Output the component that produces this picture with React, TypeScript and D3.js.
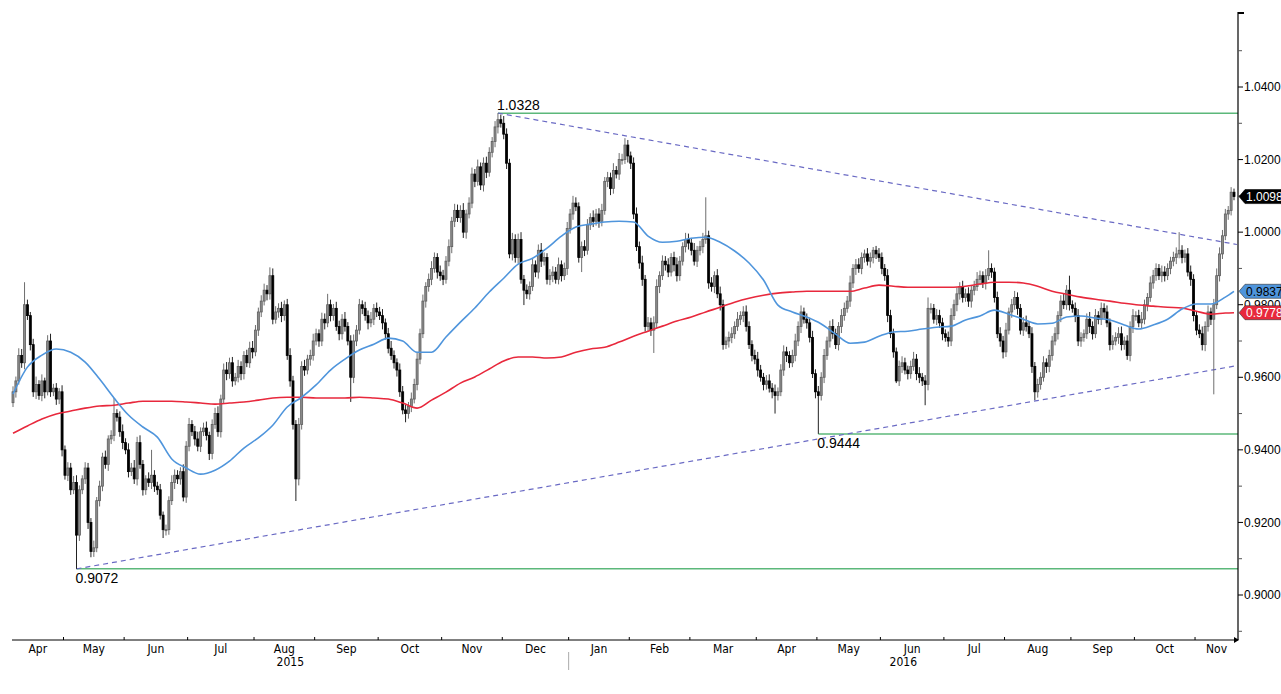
import React from "react";
import * as d3 from "d3";

// ---------------- data ----------------
const START_DATE = [2015, 3, 7]; // 7 Apr 2015, first trading day shown
const firstOpen = 0.953;

const closes = [
  0.9560,0.9590,0.9660,0.9640,0.9800,0.9770,0.9690,0.9560,0.9580,0.9550,0.9590,0.9560,0.9700,0.9560,0.9570,0.9540,0.9560,0.9400,0.9330,0.9350,
  0.9290,0.9310,0.9165,0.9290,0.9320,0.9350,0.9200,0.9120,0.9130,0.9260,0.9300,0.9380,0.9360,0.9430,0.9440,0.9500,0.9490,0.9450,0.9420,0.9400,
  0.9340,0.9350,0.9320,0.9420,0.9360,0.9290,0.9320,0.9310,0.9330,0.9300,0.9290,0.9220,0.9180,0.9180,0.9260,0.9310,0.9330,0.9320,0.9340,0.9270,
  0.9410,0.9470,0.9450,0.9430,0.9410,0.9450,0.9460,0.9440,0.9390,0.9470,0.9500,0.9450,0.9540,0.9620,0.9610,0.9640,0.9590,0.9600,0.9630,0.9610,
  0.9660,0.9640,0.9680,0.9670,0.9730,0.9780,0.9810,0.9840,0.9830,0.9880,0.9760,0.9780,0.9790,0.9770,0.9800,0.9660,0.9590,0.9470,0.9320,0.9470,
  0.9630,0.9620,0.9650,0.9660,0.9700,0.9720,0.9700,0.9760,0.9750,0.9800,0.9770,0.9790,0.9740,0.9720,0.9760,0.9740,0.9700,0.9600,0.9700,0.9730,
  0.9800,0.9790,0.9770,0.9750,0.9760,0.9790,0.9780,0.9770,0.9750,0.9720,0.9680,0.9660,0.9640,0.9620,0.9560,0.9510,0.9500,0.9520,0.9540,0.9580,
  0.9650,0.9720,0.9810,0.9850,0.9870,0.9900,0.9930,0.9890,0.9880,0.9870,0.9920,0.9960,1.0030,1.0060,1.0040,1.0060,1.0000,1.0050,1.0080,1.0160,
  1.0140,1.0180,1.0130,1.0190,1.0165,1.0220,1.0250,1.0290,1.0310,1.0300,1.0270,1.0190,0.9940,0.9980,0.9930,0.9980,0.9870,0.9840,0.9830,0.9850,
  0.9910,0.9890,0.9950,0.9920,0.9930,0.9870,0.9880,0.9890,0.9870,0.9910,0.9880,0.9900,1.0010,1.0050,1.0080,1.0070,0.9930,0.9960,0.9950,1.0020,
  1.0040,1.0030,1.0050,1.0030,1.0060,1.0140,1.0150,1.0120,1.0170,1.0160,1.0200,1.0200,1.0240,1.0210,1.0190,1.0050,0.9960,0.9915,0.9870,0.9740,
  0.9750,0.9730,0.9750,0.9850,0.9880,0.9920,0.9910,0.9890,0.9930,0.9910,0.9880,0.9920,0.9960,0.9980,0.9970,0.9950,0.9920,0.9950,0.9960,0.9980,
  0.9990,0.9860,0.9850,0.9880,0.9830,0.9800,0.9690,0.9700,0.9710,0.9720,0.9740,0.9760,0.9770,0.9780,0.9740,0.9690,0.9660,0.9650,0.9620,0.9600,
  0.9580,0.9590,0.9570,0.9560,0.9550,0.9560,0.9620,0.9670,0.9660,0.9640,0.9660,0.9700,0.9740,0.9780,0.9760,0.9750,0.9710,0.9610,0.9560,0.9550,
  0.9600,0.9660,0.9700,0.9740,0.9720,0.9690,0.9740,0.9770,0.9790,0.9810,0.9860,0.9900,0.9910,0.9900,0.9930,0.9940,0.9920,0.9930,0.9950,0.9940,
  0.9930,0.9900,0.9880,0.9770,0.9720,0.9670,0.9590,0.9630,0.9640,0.9620,0.9610,0.9630,0.9650,0.9610,0.9600,0.9590,0.9580,0.9790,0.9790,0.9760,
  0.9770,0.9750,0.9720,0.9710,0.9700,0.9770,0.9800,0.9830,0.9850,0.9820,0.9830,0.9810,0.9840,0.9850,0.9870,0.9880,0.9860,0.9880,0.9900,0.9890,
  0.9820,0.9720,0.9700,0.9670,0.9730,0.9780,0.9800,0.9820,0.9790,0.9730,0.9750,0.9740,0.9720,0.9630,0.9560,0.9580,0.9600,0.9640,0.9630,0.9660,
  0.9700,0.9720,0.9770,0.9810,0.9800,0.9840,0.9800,0.9790,0.9770,0.9700,0.9710,0.9720,0.9760,0.9740,0.9720,0.9770,0.9760,0.9790,0.9780,0.9750,
  0.9690,0.9700,0.9710,0.9720,0.9690,0.9700,0.9660,0.9740,0.9770,0.9770,0.9750,0.9760,0.9800,0.9820,0.9860,0.9880,0.9900,0.9880,0.9890,0.9880,
  0.9900,0.9920,0.9930,0.9940,0.9950,0.9930,0.9940,0.9890,0.9870,0.9770,0.9730,0.9720,0.9690,0.9740,0.9780,0.9760,0.9800,0.9880,0.9940,0.9990,
  1.0050,1.0060,1.0110,1.0098,
];

// wick lengths beyond the body, in pips
const wickUp = [
  15,12,20,18,62,14,10,16,22,12,18,9,16,20,12,14,10,18,12,16,
  14,18,20,12,10,16,14,12,20,10,15,12,18,10,14,43,12,16,20,12,
  18,14,22,16,20,12,10,18,70,14,12,16,10,14,12,20,16,14,12,20,
  14,18,12,16,20,12,15,18,10,14,16,20,12,18,22,14,16,12,18,14,
  12,16,18,20,14,12,16,18,14,23,20,16,14,18,12,16,20,14,12,18,
  14,18,12,16,20,14,12,18,16,30,14,12,18,16,14,20,12,16,18,14,
  16,12,18,14,20,12,16,14,18,12,16,20,14,12,18,16,14,12,18,16,
  20,14,18,12,16,20,14,12,18,16,14,20,12,18,16,14,20,12,16,18,
  14,20,12,16,18,14,12,16,18,14,20,16,12,18,14,16,20,12,16,14,
  18,12,16,20,14,12,18,16,14,20,12,16,18,14,20,16,12,14,18,16,
  12,20,14,16,18,12,16,14,20,12,18,16,19,14,12,16,18,14,20,12,
  16,14,18,20,12,16,14,18,12,16,20,14,12,18,16,14,20,12,16,18,
  106,14,16,12,18,20,14,12,16,18,14,20,12,16,18,14,12,16,20,14,
  12,16,18,14,20,12,16,18,14,12,16,20,14,18,12,16,14,18,12,16,
  14,18,12,16,20,14,12,18,16,14,20,12,16,18,14,12,16,14,9,12,
  16,14,12,18,16,14,12,16,18,14,12,16,20,14,18,12,16,30,14,12,
  18,16,14,12,16,20,14,18,12,16,14,18,12,16,20,14,12,18,50,14,
  12,16,18,14,20,12,16,18,14,12,16,20,14,18,12,16,14,18,12,16,
  14,18,12,16,20,14,40,12,16,18,14,12,16,20,14,18,12,16,14,18,
  12,16,14,18,20,12,16,14,18,12,16,20,14,12,18,16,14,12,18,16,
  14,12,16,18,50,14,12,16,18,14,12,16,20,14,18,12,16,20,18,16,
  14,12,14,10,
];
const wickDn = [
  12,16,10,14,18,12,16,14,20,12,16,18,10,14,12,16,14,18,12,16,
  14,12,93,16,12,14,18,16,15,12,16,14,12,18,14,16,12,14,18,12,
  16,12,14,18,12,16,14,12,18,16,14,12,23,16,14,12,18,14,16,12,
  16,14,12,18,14,16,12,14,18,16,12,14,16,12,18,14,16,12,14,18,
  16,12,14,18,12,16,14,12,18,16,14,12,16,18,14,12,16,14,61,18,
  14,16,12,18,14,12,16,14,18,12,16,14,12,18,16,14,12,68,16,14,
  12,16,14,18,12,16,14,12,18,16,14,12,16,18,14,12,24,14,16,12,
  16,14,12,18,14,16,12,18,14,16,12,14,18,16,12,14,16,18,12,14,
  16,12,14,18,16,12,14,16,18,12,14,16,12,18,14,16,12,41,14,16,
  12,14,18,16,12,14,16,18,12,14,16,12,18,14,16,12,14,40,16,12,
  14,16,12,18,14,12,16,18,14,12,16,14,12,18,16,14,12,16,18,14,
  12,16,63,14,18,12,16,14,12,18,16,14,12,16,18,14,12,16,14,18,
  12,16,14,18,12,16,14,12,18,16,14,12,16,18,14,12,16,14,18,12,
  16,14,12,18,50,14,12,16,18,14,12,16,14,18,12,16,14,12,18,106,
  14,16,12,18,14,12,16,18,14,12,16,14,18,12,16,14,12,18,16,14,
  12,16,14,18,12,16,6,14,18,12,16,14,12,18,16,14,57,16,14,12,
  16,14,18,12,16,14,12,18,16,14,12,16,18,14,12,16,14,18,12,16,
  14,12,16,18,14,12,16,14,18,12,16,14,12,18,23,16,14,12,18,16,
  14,12,16,18,12,14,16,12,18,14,16,12,14,18,16,12,14,16,18,12,
  16,14,12,18,16,14,12,16,18,14,12,16,14,18,12,16,14,12,18,16,
  12,16,14,18,12,16,14,12,18,16,14,12,16,18,14,16,207,12,16,14,
  12,16,14,10,
];

// moving averages read every 5 trading days (plus the last day)
const MA_STEP = 5;
const ma50 = [
  0.9554,0.9628,0.9661,0.9678,0.9669,0.9642,0.9595,0.9543,0.9496,0.9463,
  0.9435,0.9375,0.9350,0.9333,0.9344,0.9369,0.9405,0.9433,0.9468,0.9518,
  0.9545,0.9579,0.9620,0.9650,0.9675,0.9691,0.9708,0.9700,0.9669,0.9669,
  0.9711,0.9752,0.9791,0.9835,0.9873,0.9912,0.9928,0.9956,0.9989,1.0014,
  1.0022,1.0028,1.0030,1.0028,0.9989,0.9972,0.9975,0.9983,0.9986,0.9972,
  0.9948,0.9915,0.9868,0.9799,0.9780,0.9766,0.9747,0.9719,0.9694,0.9697,
  0.9713,0.9725,0.9727,0.9733,0.9738,0.9741,0.9758,0.9769,0.9785,0.9774,
  0.9760,0.9747,0.9749,0.9766,0.9769,0.9763,0.9758,0.9744,0.9733,0.9744,
  0.9760,0.9788,0.9802,0.9802,0.9821,0.9837,
];
const ma200 = [
  0.9446,0.9466,0.9485,0.9499,0.9507,0.9515,0.9521,0.9523,0.9529,0.9534,
  0.9534,0.9534,0.9532,0.9529,0.9526,0.9529,0.9532,0.9537,0.9543,0.9545,
  0.9545,0.9543,0.9543,0.9543,0.9545,0.9543,0.9540,0.9529,0.9515,0.9537,
  0.9559,0.9584,0.9601,0.9623,0.9645,0.9656,0.9656,0.9653,0.9656,0.9669,
  0.9678,0.9683,0.9697,0.9713,0.9727,0.9741,0.9755,0.9766,0.9780,0.9793,
  0.9807,0.9818,0.9826,0.9832,0.9835,0.9837,0.9837,0.9837,0.9837,0.9846,
  0.9854,0.9851,0.9848,0.9848,0.9848,0.9848,0.9851,0.9857,0.9862,0.9862,
  0.9860,0.9851,0.9837,0.9829,0.9821,0.9815,0.9810,0.9804,0.9799,0.9796,
  0.9793,0.9791,0.9782,0.9774,0.9777,0.9778,
];

const yMajor = [0.90, 0.92, 0.94, 0.96, 0.98, 1.00, 1.02, 1.04];
const yMinor = [0.89, 0.91, 0.93, 0.95, 0.97, 0.99, 1.01, 1.03, 1.05];
const monthNames = ["Jan","Feb","Mar","Apr","May","Jun","Jul","Aug","Sep","Oct","Nov","Dec"];

// horizontal levels: start day index and price
const levelIdx = [168, 279, 22];
const levelVal = [1.0328, 0.9444, 0.9072];
const levelText = ["1.0328", "0.9444", "0.9072"];

// trend lines: [day index, price] pairs
const trendUpper = [[168, 1.0328], [424, 0.9966]];
const trendLower = [[22, 0.9072], [424, 0.9632]];

const tagVals = [1.0098, 0.9837, 0.9778];
const tagText = ["1.0098", "0.9837", "0.9778"];

// ---------------- layout ----------------
const W = 1281, H = 694;
const PL = 12, PR = 1238, PT = 12, PB = 640;
const AX_FONT = "'Liberation Sans', Arial, sans-serif";
const DATE_FONT = "'DejaVu Sans Condensed', 'DejaVu Sans', sans-serif";

function tradingDays(n: number) {
  const out: Date[] = [];
  const d = new Date(START_DATE[0], START_DATE[1], START_DATE[2]);
  while (out.length < n) {
    const wd = d.getDay();
    if (wd !== 0 && wd !== 6) out.push(new Date(d));
    d.setDate(d.getDate() + 1);
  }
  return out;
}

export default function App() {
  const n = closes.length;
  const dates = tradingDays(n);
  const x = d3.scaleLinear().domain([0, n - 1]).range([13, 1234]);
  const y = d3.scaleLinear().domain([0.9, 1.04]).range([595, 87]);

  const candles = closes.map((c, i) => {
    const o = i === 0 ? firstOpen : closes[i - 1];
    const hi = Math.max(o, c) + wickUp[i] / 10000;
    const lo = Math.min(o, c) - wickDn[i] / 10000;
    return { i, o, c, hi, lo };
  });

  const maIdx = ma50.map((_, k) => Math.min(k * MA_STEP, n - 1));
  const maLine = d3
    .line<number>()
    .x((_, k) => x(maIdx[k]))
    .y((v) => y(v))
    .curve(d3.curveMonotoneX);

  type Seg = { key: string; label: string; s: number; e: number };
  const months: Seg[] = [];
  const years: Seg[] = [];
  dates.forEach((d, i) => {
    const mk = d.getFullYear() + "-" + d.getMonth();
    const last = months[months.length - 1];
    if (!last || last.key !== mk) months.push({ key: mk, label: monthNames[d.getMonth()], s: i, e: i });
    else last.e = i;
    const yk = String(d.getFullYear());
    const ly = years[years.length - 1];
    if (!ly || ly.key !== yk) years.push({ key: yk, label: yk, s: i, e: i });
    else ly.e = i;
  });
  const segL = (s: Seg, k: number) => (k === 0 ? PL : x(s.s - 0.5));
  const segR = (s: Seg, k: number, arr: Seg[]) => (k === arr.length - 1 ? PR : x(s.e + 0.5));

  const bodyW = 2;
  const tagFill = ["#000000", "#4f95dc", "#e8283c"];
  const tagTextFill = ["#ffffff", "#000000", "#ffffff"];

  return (
    <svg
      width={W}
      height={H}
      style={{ position: "absolute", left: 0, top: 0, background: "#fff" }}
      xmlns="http://www.w3.org/2000/svg"
    >
      <rect x={0} y={0} width={W} height={H} fill="#fff" />

      {levelVal.map((v, k) => (
        <line key={"lv" + k} x1={x(levelIdx[k])} x2={PR} y1={y(v)} y2={y(v)} stroke="#5cb87a" strokeWidth={1.5} />
      ))}

      {[trendUpper, trendLower].map((t, k) => (
        <line
          key={"tr" + k}
          x1={x(t[0][0])}
          y1={y(t[0][1])}
          x2={Math.min(x(t[1][0]), PR)}
          y2={y(t[1][1])}
          stroke="#6a6ac4"
          strokeWidth={1.2}
          strokeDasharray="5,4"
        />
      ))}

      <g>
        {candles.map((d) => {
          const cx = x(d.i);
          const up = d.c >= d.o;
          const top = y(Math.max(d.o, d.c));
          const bot = y(Math.min(d.o, d.c));
          const h = Math.max(1, bot - top);
          return (
            <g key={d.i}>
              <line x1={cx} x2={cx} y1={y(d.hi)} y2={y(d.lo)} stroke={up ? "#6e6e6e" : "#222"} strokeWidth={1} />
              <rect
                x={cx - bodyW / 2}
                y={top}
                width={bodyW}
                height={h}
                fill={up ? "#8c8c8c" : "#000"}
                stroke={up ? "#5e5e5e" : "#000"}
                strokeWidth={0.8}
              />
            </g>
          );
        })}
      </g>

      <path d={maLine(ma200) || ""} fill="none" stroke="#e8283c" strokeWidth={1.6} />
      <path d={maLine(ma50) || ""} fill="none" stroke="#4f95dc" strokeWidth={1.6} />

      <text x={x(levelIdx[0]) - 1} y={y(levelVal[0]) - 3} fontFamily={AX_FONT} fontSize={14} fill="#000">
        {levelText[0]}
      </text>
      <text x={x(levelIdx[1]) - 1} y={y(levelVal[1]) + 14} fontFamily={AX_FONT} fontSize={14} fill="#000">
        {levelText[1]}
      </text>
      <text x={x(levelIdx[2]) - 1} y={y(levelVal[2]) + 14} fontFamily={AX_FONT} fontSize={14} fill="#000">
        {levelText[2]}
      </text>

      <line x1={PR} x2={PR} y1={PT} y2={PB} stroke="#000" strokeWidth={1.2} />
      <line x1={PR} x2={PR + 6} y1={PT + 1} y2={PT + 1} stroke="#000" strokeWidth={2} />
      {yMinor.map((v) => (
        <line key={"mn" + v} x1={PR} x2={PR + 4} y1={y(v)} y2={y(v)} stroke="#555" strokeWidth={1} />
      ))}
      {yMajor.map((v) => (
        <g key={"mj" + v}>
          <line x1={PR} x2={PR + 5} y1={y(v)} y2={y(v)} stroke="#000" strokeWidth={1} />
          <text x={PR + 6} y={y(v)} dy="0.35em" fontFamily={AX_FONT} fontSize={12} fill="#000">
            {d3.format(".4f")(v)}
          </text>
        </g>
      ))}

      {tagVals.map((v, k) => {
        const ty = y(v);
        const pts = [
          [PR + 1, ty],
          [PR + 7, ty - 7],
          [W, ty - 7],
          [W, ty + 7],
          [PR + 7, ty + 7],
        ]
          .map((p) => p.join(","))
          .join(" ");
        return (
          <g key={"tag" + k}>
            <polygon points={pts} fill={tagFill[k]} stroke={k === 0 ? "#000" : "#333"} strokeWidth={0.6} />
            <text x={PR + 8} y={ty} dy="0.36em" fontFamily={AX_FONT} fontSize={12} fill={tagTextFill[k]}>
              {tagText[k]}
            </text>
          </g>
        );
      })}

      <line x1={PL} x2={PR} y1={PB} y2={PB} stroke="#000" strokeWidth={1} />
      <path d={`M${PR - 4},${PB - 3} L${PR + 1},${PB} L${PR - 4},${PB + 3} Z`} fill="#000" />
      {months.map((m, k) => (
        <g key={"m" + m.key}>
          {k > 0 && <line x1={segL(m, k)} x2={segL(m, k)} y1={PB - 3} y2={PB} stroke="#000" strokeWidth={1} />}
          <text
            x={(segL(m, k) + segR(m, k, months)) / 2}
            y={PB + 13}
            textAnchor="middle"
            fontFamily={DATE_FONT}
            fontSize={12}
            fill="#000"
          >
            {m.label}
          </text>
        </g>
      ))}
      {years.map((s, k) => (
        <g key={"y" + s.key}>
          {k > 0 && <line x1={segL(s, k)} x2={segL(s, k)} y1={PB + 12} y2={PB + 30} stroke="#aaa" strokeWidth={1} />}
          <text
            x={(segL(s, k) + segR(s, k, years)) / 2}
            y={PB + 26}
            textAnchor="middle"
            fontFamily={DATE_FONT}
            fontSize={12}
            fill="#000"
          >
            {s.label}
          </text>
        </g>
      ))}
    </svg>
  );
}
